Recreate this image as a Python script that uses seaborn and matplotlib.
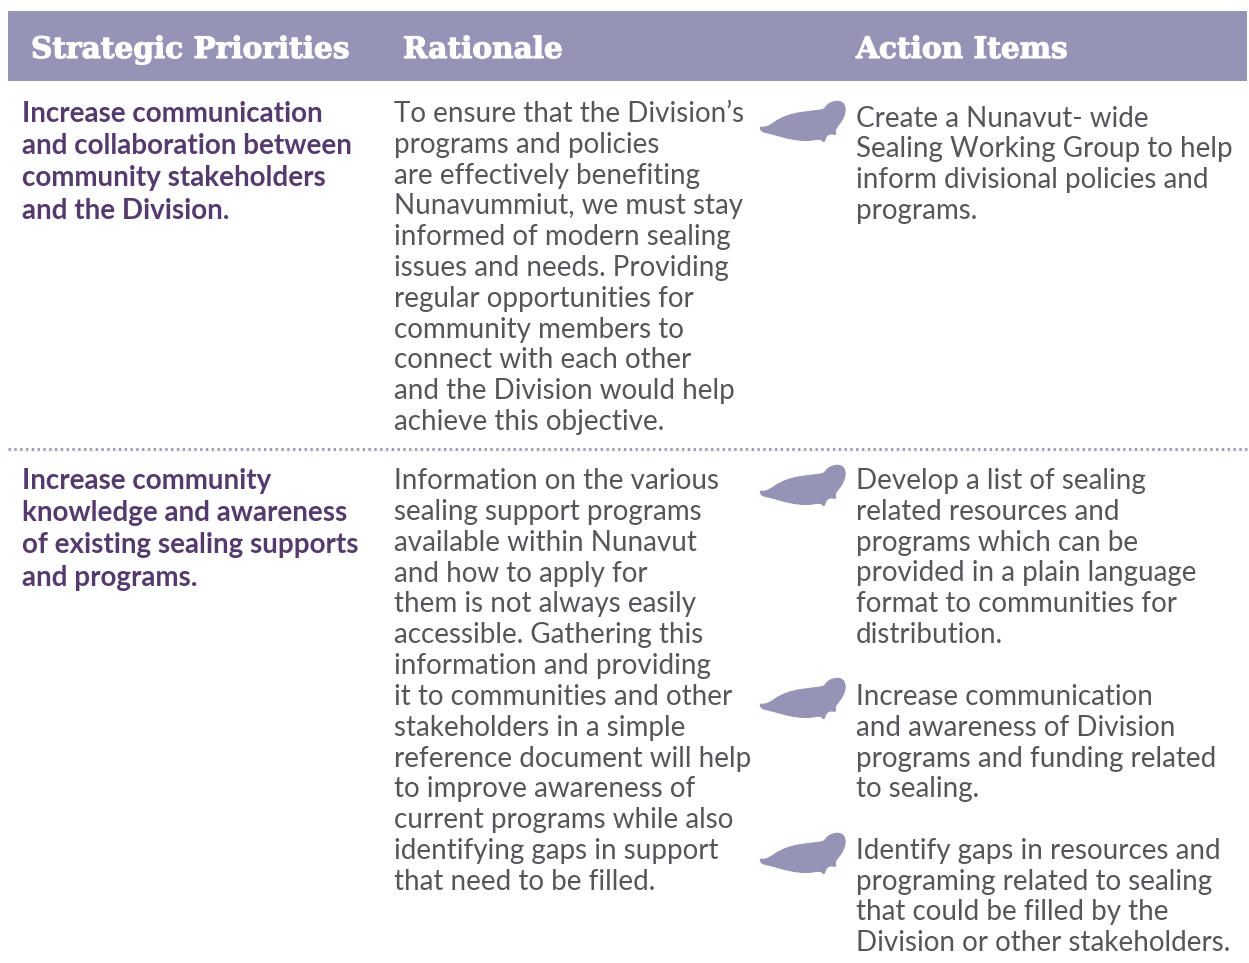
import matplotlib
matplotlib.use("Agg")
import matplotlib.pyplot as plt
import matplotlib.patheffects as pe
from matplotlib.patches import Polygon, Rectangle
import seaborn as sns

headers = ["Strategic Priorities", "Rationale", "Action Items"]
priority_1 = ["Increase communication", "and collaboration between", "community stakeholders", "and the Division."]
priority_2 = ["Increase community", "knowledge and awareness", "of existing sealing supports", "and programs."]
rationale_1 = ["To ensure that the Division’s", "programs and policies", "are effectively benefiting", "Nunavummiut, we must stay",
               "informed of modern sealing", "issues and needs. Providing", "regular opportunities for", "community members to",
               "connect with each other", "and the Division would help", "achieve this objective."]
rationale_2 = ["Information on the various", "sealing support programs", "available within Nunavut", "and how to apply for",
               "them is not always easily", "accessible. Gathering this", "information and providing", "it to communities and other",
               "stakeholders in a simple", "reference document will help", "to improve awareness of", "current programs while also",
               "identifying gaps in support", "that need to be filled."]
action_1 = ["Create a Nunavut- wide", "Sealing Working Group to help", "inform divisional policies and", "programs."]
action_2 = ["Develop a list of sealing", "related resources and", "programs which can be", "provided in a plain language",
            "format to communities for", "distribution."]
action_3 = ["Increase communication", "and awareness of Division", "programs and funding related", "to sealing."]
action_4 = ["Identify gaps in resources and", "programing related to sealing", "that could be filled by the", "Division or other stakeholders."]

HEADER = "#9594b6"
PURPLE = "#553a6e"
GREY = "#55565a"

sns.set_theme(style="white")
plt.rcParams['font.family'] = ['Lato', 'DejaVu Sans']

fig, ax = plt.subplots(figsize=(12.49, 9.63), dpi=100)
fig.subplots_adjust(0, 0, 1, 1)
ax.set_xlim(0, 1249)
ax.set_ylim(963, 0)
ax.axis("off")
sns.despine(ax=ax, left=True, bottom=True)

ax.add_patch(Rectangle((8, 11), 1239, 70, fc=HEADER, ec="none"))
for label, x in zip(headers, [31, 403, 856]):
    ax.text(x, 58, label, family="DejaVu Serif", weight="bold", fontsize=21.3, color="white",
            va="baseline", ha="left",
            path_effects=[pe.withStroke(linewidth=0.8, foreground="white")])

ax.plot([8, 1247], [449, 449], color=HEADER, lw=2.2, ls=(0, (0.8, 1.1)), alpha=0.9)


def block(lines, x, y0, step, **kw):
    for i, line in enumerate(lines):
        ax.text(x, y0 + i * step, line, va="baseline", ha="left", **kw)


body = dict(fontsize=20.0, color=GREY, weight="normal")
bold = dict(fontsize=20.0, color=PURPLE, weight="bold")
block(priority_1, 22, 122, 32.2, **bold)
block(priority_2, 22, 489, 32.25, **bold)
block(rationale_1, 394, 122, 30.8, **body)
block(rationale_2, 394, 489, 30.85, **body)
block(action_1, 856, 126.7, 30.7, **body)
block(action_2, 856, 489, 30.8, **body)
block(action_3, 856, 705, 30.8, **body)
block(action_4, 856, 859, 30.7, **body)

seal = [(30, 110), (45, 111), (60, 105), (90, 85), (130, 70), (180, 63), (222, 58), (228, 48), (240, 38), (260, 32),
        (278, 36), (286, 52), (284, 72), (275, 92), (262, 108), (255, 120), (258, 133), (240, 130), (228, 138),
        (222, 157), (212, 145), (170, 152), (120, 146), (70, 132), (40, 125), (33, 120)]


def rounded(points):
    out = []
    n = len(points)
    for i in range(n):
        (x0, y0), (x1, y1) = points[i], points[(i + 1) % n]
        out.append((0.75 * x0 + 0.25 * x1, 0.75 * y0 + 0.25 * y1))
        out.append((0.25 * x0 + 0.75 * x1, 0.25 * y0 + 0.75 * y1))
    return out


seal_smooth = rounded(seal)
for top in [101, 465, 678, 833]:
    pts = [(750 + px / 3, top - 10.7 + py / 3) for px, py in seal_smooth]
    ax.add_patch(Polygon(pts, closed=True, fc=HEADER, ec=HEADER, lw=0.8))

fig.savefig("out.png", dpi=100)
